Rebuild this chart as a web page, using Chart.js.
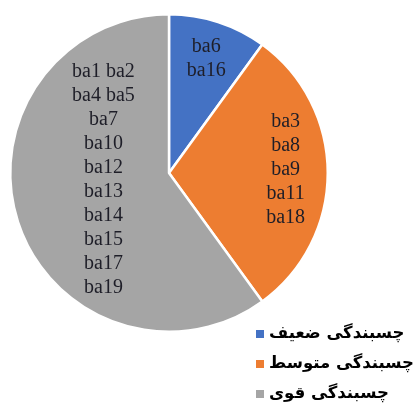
<!DOCTYPE html>
<html>
<head>
<meta charset="utf-8">
<script src="https://cdn.jsdelivr.net/npm/chart.js@4"></script>
<style>
  html, body { margin: 0; padding: 0; background: #fff; }
  canvas { display: block; }
</style>
</head>
<body>
<canvas id="adhesion-chart" width="419" height="408"></canvas>
<script>
// Adhesion classes and their share of the samples
const categories = ["چسبندگی ضعیف", "چسبندگی متوسط", "چسبندگی قوی"];
const shares = [10, 30, 60];
const sampleLists = [
  ["ba6", "ba16"],
  ["ba3", "ba8", "ba9", "ba11", "ba18"],
  ["ba1 ba2", "ba4 ba5", "ba7", "ba10", "ba12", "ba13", "ba14", "ba15", "ba17", "ba19"],
];
const colors = ["#4472C4", "#ED7D31", "#A5A5A5"];

// where each sample list sits inside its slice (fraction of radius, angle nudge)
const labelRadius = [0.76, 0.735, 0.415];
const labelTurn = [0, -0.03, 0.21];

/**
 * Write the sample names inside every slice.
 */
const sliceLabels = {
  id: "sliceLabels",
  afterDatasetsDraw(chart) {
    const ctx = chart.ctx;
    const arcs = chart.getDatasetMeta(0).data;
    ctx.save();
    ctx.font = "20px 'Liberation Serif', 'Times New Roman', serif";
    ctx.fillStyle = "#1e1e28";
    ctx.textAlign = "center";
    ctx.textBaseline = "middle";
    arcs.forEach((arc, i) => {
      const { x, y, startAngle, endAngle, outerRadius } = arc.getProps(
        ["x", "y", "startAngle", "endAngle", "outerRadius"], true);
      const mid = (startAngle + endAngle) / 2 + labelTurn[i];
      const r = outerRadius * labelRadius[i];
      const cx = x + Math.cos(mid) * r;
      const cy = y + Math.sin(mid) * r;
      const lines = sampleLists[i];
      const lineHeight = 24;
      const top = cy - ((lines.length - 1) * lineHeight) / 2;
      lines.forEach((line, j) => ctx.fillText(line, cx, top + j * lineHeight));
    });
    ctx.restore();
  },
};

/**
 * Stacked legend in the lower right corner.
 */
const cornerLegend = {
  id: "cornerLegend",
  afterDraw(chart) {
    const ctx = chart.ctx;
    const left = 256;
    const firstRow = 334;
    const rowGap = 30;
    ctx.save();
    ctx.font = "bold 16.5px 'DejaVu Sans', sans-serif";
    ctx.textBaseline = "middle";
    ctx.direction = "rtl";
    ctx.textAlign = "left";
    categories.forEach((name, i) => {
      const y = firstRow + i * rowGap;
      ctx.fillStyle = colors[i];
      ctx.fillRect(left, y - 4, 8, 8);
      ctx.fillStyle = "#000";
      ctx.fillText(name, left + 13, y);
    });
    ctx.restore();
  },
};

new Chart(document.getElementById("adhesion-chart"), {
  type: "pie",
  data: {
    labels: categories,
    datasets: [
      {
        data: shares,
        backgroundColor: colors,
        borderColor: "#ffffff",
        borderWidth: 2.5,
      },
    ],
  },
  options: {
    responsive: false,
    animation: false,
    events: [],
    layout: { padding: { left: 9, top: 13, right: 90, bottom: 75 } },
    plugins: {
      legend: { display: false },
      tooltip: { enabled: false },
    },
  },
  plugins: [sliceLabels, cornerLegend],
});
</script>
</body>
</html>
